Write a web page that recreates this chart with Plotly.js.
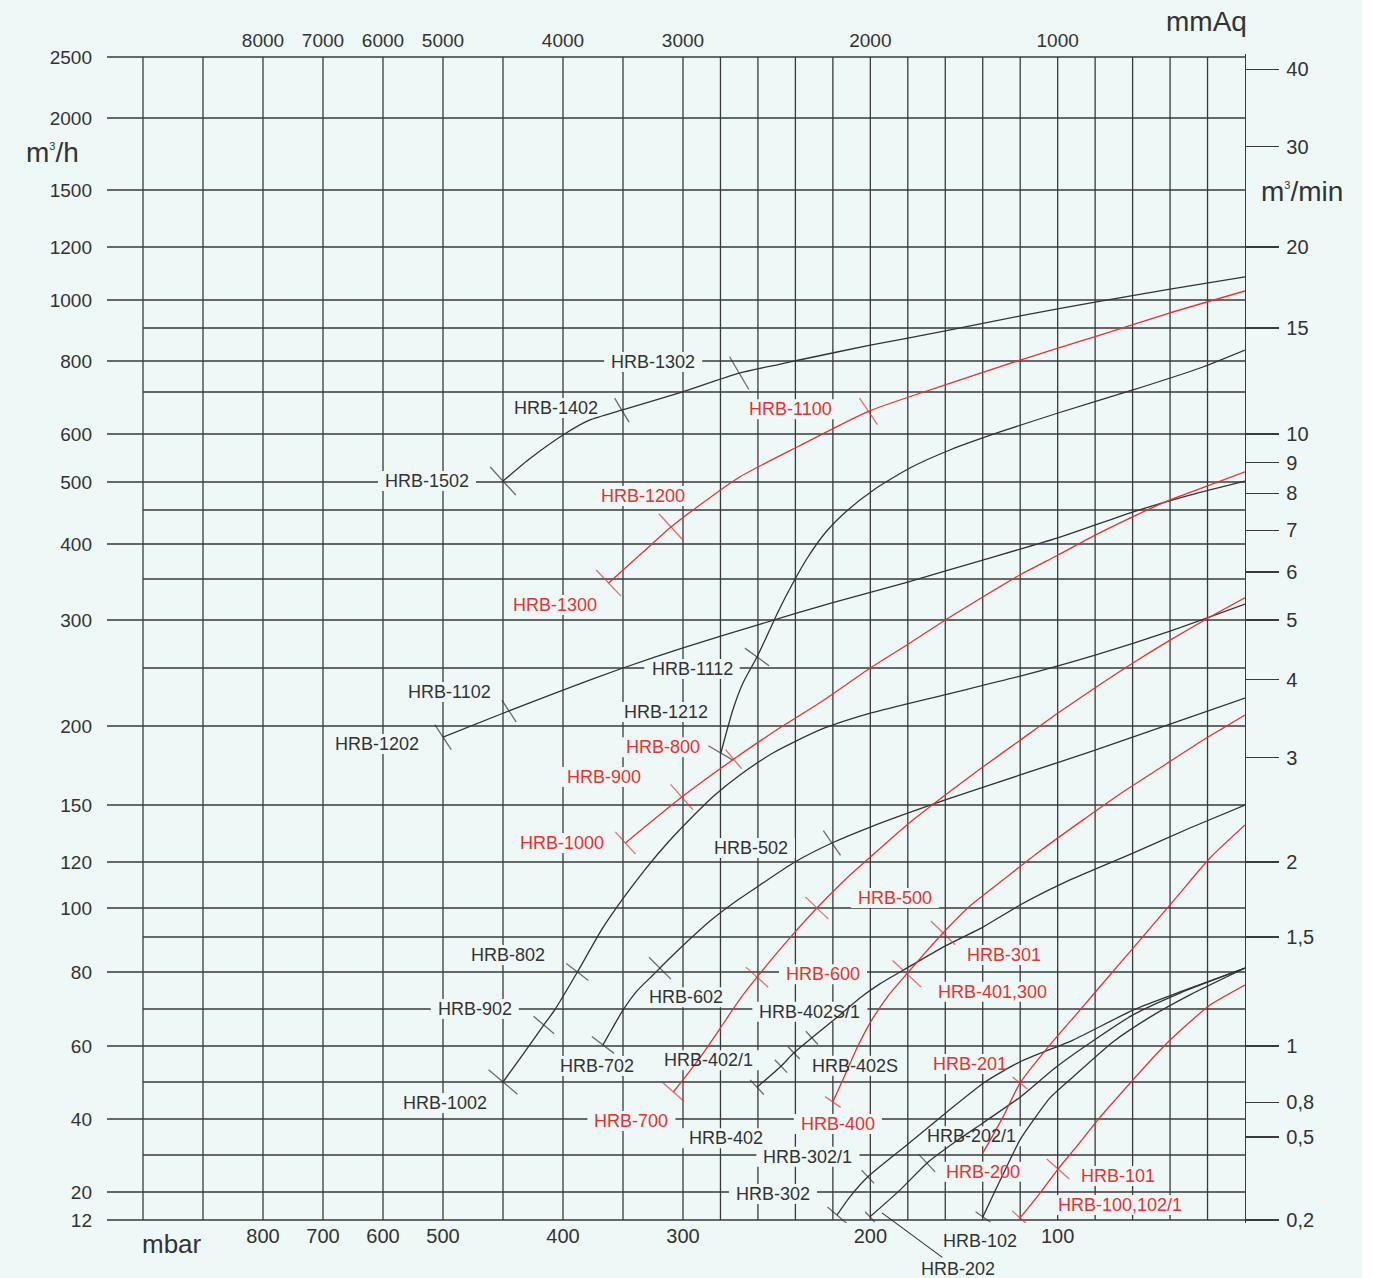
<!DOCTYPE html>
<html>
<head>
<meta charset="utf-8">
<script src="https://cdn.plot.ly/plotly-3.0.1.min.js"></script>
<style>
html,body{margin:0;padding:0;background:#ffffff;}
#chart{width:1378px;height:1278px;}
</style>
</head>
<body>
<div id="chart"></div>
<script>
// ======================= DATA =======================
// Left axis: air flow (m3/h)
const flowTickValues = [12,20,40,60,80,100,120,150,200,300,400,500,600,800,1000,1200,1500,2000,2500];
const flowMinorGrid  = [30,50,70,90,250,350,450,700,900];
// Bottom axis: pressure (mbar)
const mbarTickValues = [800,700,600,500,400,300,200,100];
const mbarGrid = [20,40,60,80,100,120,140,160,180,200,220,240,260,280,300,350,400,450,500,600,700,800,900,1000];
// Top axis: mmAq
const mmAqTickValues = [8000,7000,6000,5000,4000,3000,2000,1000];
// Right axis: m3/min as printed, and the m3/h level where each label is printed
const m3minTickText = ['40','30','20','15','10','9','8','7','6','5','4','3','2','1,5','1','0,8','0,5','0,2'];
const m3minTickFlow = [2400,1800,1200,900,600,540,480,420,360,300,240,180,120,90,60,44.5,35,12];

// Curve A  HRB-1502 / 1402 / 1302
const A_mbar = [450,428,400,378,351,303,270,248,238,200,160,120,77,40,0];
const A_flow = [502,548,598,633,657,698,761,790,803,848,891,943,996,1041,1087];
const A_names = ['HRB-1502','HRB-1402','HRB-1302'];
const A_tickMbar = [450,351,270];
const A_tickFlow = [502,657,761];
// Curve B  HRB-1300 / 1200 / 1100
const B_mbar = [362,333,310,291,270,238,201,160,120,77,40,0];
const B_flow = [345,389,425,459,510,575,654,723,803,879,954,1034];
const B_names = ['HRB-1300','HRB-1200','HRB-1100'];
const B_tickMbar = [362,310,201];
const B_tickFlow = [345,425,654];
// Curve C  HRB-1212 / 1112
const C_mbar = [279.8,273.4,268,260.5,255.7,249.3,241.9,233.3,223.7,212,197.5,178.9,157.5,130.8,99.8,59.8,24,0];
const C_flow = [182.9,213.8,237,261.5,281.3,309.8,342.7,381.4,417.6,450,487.5,529.2,566.7,604.8,650,706.5,777.4,833.3];
const C_names = ['HRB-1212','HRB-1112'];
const C_tickMbar = [279.8,260.5];
const C_tickFlow = [182.9,261.5];
// Curve D  HRB-1202 / 1102
const D_mbar = [500,450,400,350,300,260,220.5,180.5,140,100,60,29,0];
const D_flow = [193,211,231,250,271,295,321,346,377,409,447,477,502];
const D_names = ['HRB-1202','HRB-1102'];
const D_tickMbar = [500,445];
const D_tickFlow = [193,213];
// Curve E  HRB-1000 / 900 / 800
const E_mbar = [348,301,273,248,227,200,180.5,160,140,120,100,80,60,40,20,0];
const E_flow = [130,155,179,199,220,250,274,300,328,356,384,413,440,468,493,521];
const E_names = ['HRB-1000','HRB-900','HRB-800'];
const E_tickMbar = [348,301,273];
const E_tickFlow = [130,155,179];
// Curve F  HRB-1002 / 902 / 802
const F_mbar = [450,432,416,407,388,368,349,332,313,296.3,283,269.6,252,226.9,200,160,120,80,40,0];
const F_flow = [50,58.3,65.7,69.7,80,92.4,104.8,116.5,130,142.5,156.3,169,182.9,197.5,211,227,243,263.5,288.5,319.5];
const F_names = ['HRB-1002','HRB-902','HRB-802'];
const F_tickMbar = [450,416,388];
const F_tickFlow = [50,65.7,80];
// Curve G  HRB-702 / 602 / 502
const G_mbar = [366.7,359.2,350,338.3,325,310.8,296.3,285.6,272.3,258.9,240.3,220.5,200,160,120,80,40,0];
const G_flow = [60.3,64.6,69.7,74.9,79.2,84,89.4,95.5,102.6,110,120,130,138.4,153.2,169,184.8,201.7,224.1];
const G_names = ['HRB-702','HRB-602','HRB-502'];
const G_tickMbar = [366.7,319.2,220.5];
const G_tickFlow = [60.3,81.1,130];
// Curve H  HRB-700 / 600 / 500
const H_mbar = [308,291,280,270,260.5,244,228.5,213.6,200,180.5,160,140,120,100,80,60,40,20,0];
const H_flow = [47.3,56.7,64.9,72.4,78.6,89.1,100,112.2,122.6,139.5,156.3,174,191,211,233,255,279,302,327];
const H_names = ['HRB-700','HRB-600','HRB-500'];
const H_tickMbar = [308,260.5,228.5];
const H_tickFlow = [47.3,78.6,100];
// Curve I  HRB-402 / 402/1 / 402S / 402S/1
const I_mbar = [260.5,247.7,240.8,231.2,216.2,205.6,194.9,180.5,161.2,139.9,120.1,93.4,59.8,29.4,0];
const I_flow = [48.6,54.4,58.1,62.2,68.4,73,76.8,81.1,87.1,93.4,101.3,112.2,124.7,137.9,150];
const I_names = ['HRB-402','HRB-402/1','HRB-402S','HRB-402S/1'];
const I_tickMbar = [260.5,247.7,240.8,231.2];
const I_tickFlow = [48.6,54.4,58.1,62.2];
// Curve J  HRB-400 / 401,300 / 301
const J_mbar = [220,213.6,207.2,200.2,190.6,180.5,170.9,161.2,146.8,129.2,109.4,88.1,66.7,45.4,24,0];
const J_flow = [44.6,51.9,59.4,66.2,73.5,79.5,85.4,91.4,100.9,112.2,125.8,141,157,173.4,189.9,209.5];
const J_names = ['HRB-400','HRB-401,300','HRB-301'];
const J_tickMbar = [220,180.5,161.2];
const J_tickFlow = [44.6,79.5,91.4];
// Curve K  HRB-302 / 302/1
const K_mbar = [217.8,210.9,201.3,180.5,159.1,138.8,120.1,91.8,59.8,34.7,0];
const K_flow = [13.4,18.6,24.1,32.8,41.9,50,55.6,61.6,69.7,74.6,81.1];
const K_names = ['HRB-302','HRB-302/1'];
const K_tickMbar = [217.8,201.3];
const K_tickFlow = [13.4,24.1];
// Curve L  HRB-202 / 202/1
const L_mbar = [200.2,184.2,169.8,154.8,139.9,120.1,101.4,82.8,59.8,34.7,0];
const L_flow = [12.9,20.5,27.8,33.6,38.9,45.9,53.9,60.8,68.4,74.3,81.1];
const L_names = ['HRB-202','HRB-202/1'];
const L_tickMbar = [200.2,169.8];
const L_tickFlow = [12.9,27.8];
// Curve M  HRB-102
const M_mbar = [139.9,134.5,128.1,120.1,112.1,104.1,91.8,70.5,50.7,29.4,0];
const M_flow = [12.9,19.1,25.9,34.2,40.3,45.7,51.4,61.1,67.8,73.8,81.1];
const M_names = ['HRB-102'];
const M_tickMbar = [139.9];
const M_tickFlow = [12.9];
// Curve N  HRB-200 / 201
const N_mbar = [139.9,129.2,120.1,104.1,88.1,72.1,56.1,34.7,18.7,0];
const N_flow = [30.6,40.5,49.7,60.3,69.7,79.2,89.1,106.5,122.1,139.5];
const N_names = ['HRB-200','HRB-201'];
const N_tickMbar = [139.9,120.1];
const N_tickFlow = [30.6,49.7];
// Curve O  HRB-100,102/1 / 101
const O_mbar = [120.1,109.4,99.8,89.2,79,69.4,59.8,49.7,40,29.4,18.7,0];
const O_flow = [12.6,19.7,26.2,32.8,39.5,45.1,50.6,56.4,61.6,66.5,71.1,76.5];
const O_names = ['HRB-100,102/1','HRB-101'];
const O_tickMbar = [120.1,99.8];
const O_tickFlow = [12.6,26.2];

// ======================= SCALES (printed chart uses piecewise scales) =======================
const X_SCALE = [[0,0],[300,562],[500,802],[1060,1138]];   // mbar -> axis position
const Y_SCALE = [[12,1220],[20,1192],[30,1155],[40,1119],[50,1082],[60,1046],[70,1009],[80,972],[90,937],
  [100,908],[120,862],[150,805],[200,726],[250,668],[300,620],[350,579],[400,544],[450,510],[500,482],
  [600,434],[700,392],[800,361],[900,328],[1000,300],[1200,247],[1500,190],[2000,118],[2500,57]]; // m3/h -> axis position
function interp(knots, v){
  for(let i=0;i<knots.length-1;i++){
    const a=knots[i], b=knots[i+1];
    if(v<=b[0] || i===knots.length-2) return a[1]+(v-a[0])*(b[1]-a[1])/(b[0]-a[0]);
  }
}
const xPos = p => interp(X_SCALE, p);
const yPos = q => interp(Y_SCALE, q);

// ======================= STYLE =======================
const FONT = '"Liberation Sans", Arial, Helvetica, sans-serif';
const BG = '#eef8f6';
const INK = '#333333';
const RED = '#e8312f';
const GRID = '#3a3a3a';
const W = 1378, H = 1278;
const M = {l:107, r:133, t:54, b:55};
const XR = [1138, 0], YR = [1223, 54];

const curves = [
  {mbar:A_mbar, flow:A_flow, names:A_names, tm:A_tickMbar, tf:A_tickFlow, color:INK},
  {mbar:B_mbar, flow:B_flow, names:B_names, tm:B_tickMbar, tf:B_tickFlow, color:RED},
  {mbar:C_mbar, flow:C_flow, names:C_names, tm:C_tickMbar, tf:C_tickFlow, color:INK},
  {mbar:D_mbar, flow:D_flow, names:D_names, tm:D_tickMbar, tf:D_tickFlow, color:INK},
  {mbar:E_mbar, flow:E_flow, names:E_names, tm:E_tickMbar, tf:E_tickFlow, color:RED},
  {mbar:F_mbar, flow:F_flow, names:F_names, tm:F_tickMbar, tf:F_tickFlow, color:INK},
  {mbar:G_mbar, flow:G_flow, names:G_names, tm:G_tickMbar, tf:G_tickFlow, color:INK},
  {mbar:H_mbar, flow:H_flow, names:H_names, tm:H_tickMbar, tf:H_tickFlow, color:RED},
  {mbar:I_mbar, flow:I_flow, names:I_names, tm:I_tickMbar, tf:I_tickFlow, color:INK},
  {mbar:J_mbar, flow:J_flow, names:J_names, tm:J_tickMbar, tf:J_tickFlow, color:RED},
  {mbar:K_mbar, flow:K_flow, names:K_names, tm:K_tickMbar, tf:K_tickFlow, color:INK},
  {mbar:L_mbar, flow:L_flow, names:L_names, tm:L_tickMbar, tf:L_tickFlow, color:INK},
  {mbar:M_mbar, flow:M_flow, names:M_names, tm:M_tickMbar, tf:M_tickFlow, color:INK},
  {mbar:N_mbar, flow:N_flow, names:N_names, tm:N_tickMbar, tf:N_tickFlow, color:RED},
  {mbar:O_mbar, flow:O_flow, names:O_names, tm:O_tickMbar, tf:O_tickFlow, color:RED}
];
// tick-mark length (px) for each model
const TICK_LEN = {'HRB-1502':38,'HRB-1402':28,'HRB-1302':38,'HRB-1300':36,'HRB-1200':36,'HRB-1100':32,
 'HRB-1212':29,'HRB-1112':30,'HRB-1202':30,'HRB-1102':26,'HRB-1000':30,'HRB-900':34,'HRB-800':25,
 'HRB-1002':38,'HRB-902':27,'HRB-802':28,'HRB-702':28,'HRB-602':31,'HRB-502':30,'HRB-700':28,'HRB-600':30,
 'HRB-500':32,'HRB-402':20,'HRB-402/1':18,'HRB-402S':17,'HRB-402S/1':18,'HRB-400':19,'HRB-401,300':39,
 'HRB-301':34,'HRB-302':25,'HRB-302/1':18,'HRB-202':14,'HRB-202/1':24,'HRB-102':18,'HRB-201':19,'HRB-200':0,
 'HRB-101':30,'HRB-100,102/1':21};
// label offset (px right, px down) from the model's point
const LABEL_OFF = {'HRB-1502':[-76,0],'HRB-1402':[-66,-2],'HRB-1302':[-86,-11],'HRB-1300':[-54,22],
 'HRB-1200':[-28,-31],'HRB-1100':[-78,-2],'HRB-1212':[-55,-41],'HRB-1112':[-65,12],'HRB-1202':[-66,7],
 'HRB-1102':[-60,-19],'HRB-1000':[-63,0],'HRB-900':[-78,-20],'HRB-800':[-71,-12],'HRB-1002':[-58,21],
 'HRB-902':[-69,-16],'HRB-802':[-69,-17],'HRB-702':[-6,21],'HRB-602':[26,29],'HRB-502':[-81,5],
 'HRB-700':[-42,29],'HRB-600':[66,-3],'HRB-500':[78,-10],'HRB-402':[-31,51],'HRB-402/1':[-72,-6],
 'HRB-402S':[61,13],'HRB-402S/1':[-2,-26],'HRB-400':[5,22],'HRB-401,300':[86,18],'HRB-301':[61,22],
 'HRB-302':[-64,-21],'HRB-302/1':[-60,-20],'HRB-202':[88,52],'HRB-202/1':[45,-27],'HRB-102':[-3,24],
 'HRB-201':[-50,-19],'HRB-200':[0,19],'HRB-101':[60,7],'HRB-100,102/1':[100,-13]};
const ARROW_LABELS = {'HRB-202':{shift:[12,-4]}};

const LABEL_SIZE = 18;
const cv = document.createElement('canvas').getContext('2d');
cv.font = LABEL_SIZE + 'px "Liberation Sans", Arial, sans-serif';
const textW = s => cv.measureText(s).width;

const pxX = px => (px - M.l) / (W - M.l - M.r);
const pxY = py => (H - M.b - py) / (H - M.t - M.b);

// ======================= BUILD =======================
const traces = [], shapes = [], annotations = [];

// grid
mbarGrid.forEach(m => shapes.push({type:'line', xref:'x', yref:'y', x0:xPos(m), x1:xPos(m), y0:yPos(12), y1:yPos(2500),
  line:{color:GRID, width:1.3}, layer:'below'}));
flowTickValues.forEach(q => shapes.push({type:'line', xref:'x', yref:'y', x0:xPos(1060), x1:xPos(0), y0:yPos(q), y1:yPos(q),
  line:{color:GRID, width:1.3}, layer:'below'}));
flowMinorGrid.forEach(q => shapes.push({type:'line', xref:'x', yref:'y', x0:xPos(1000), x1:xPos(0), y0:yPos(q), y1:yPos(q),
  line:{color:GRID, width:1.3}, layer:'below'}));

curves.forEach(c => {
  const xs = c.mbar.map(xPos), ys = c.flow.map(yPos);
  traces.push({type:'scatter', mode:'lines', x:xs, y:ys, line:{color:c.color, width:1.3, shape:'spline', smoothing:0.6},
    hoverinfo:'skip', showlegend:false});
  const tx=[], ty=[], ang=[], sz=[];
  c.names.forEach((n,i) => {
    const X = xPos(c.tm[i]), Y = yPos(c.tf[i]);
    const len = TICK_LEN[n] || 0;
    if(len > 0){
      let best=0, bd=1e12;
      xs.forEach((x,k) => { const d=(x-X)**2+(ys[k]-Y)**2; if(d<bd){bd=d; best=k;} });
      const k0=Math.max(0,best-1), k1=Math.min(xs.length-1,best+1);
      const dsx = -(xs[k1]-xs[k0]), dsy = ys[k1]-ys[k0];
      const phi = Math.atan2(dsy, dsx)*180/Math.PI;
      tx.push(X); ty.push(Y); ang.push(0.5*phi - 22.5); sz.push(len/1.4);
    }
    const off = LABEL_OFF[n];
    const col = c.color;
    if(ARROW_LABELS[n]){
      const sh = ARROW_LABELS[n].shift;
      annotations.push({x:X, y:Y, xref:'x', yref:'y', text:n, showarrow:true, arrowhead:0, arrowwidth:1.1, arrowcolor:INK,
        ax:off[0]-sh[0], ay:off[1]-sh[1], xshift:sh[0], yshift:-sh[1], standoff:0,
        font:{family:FONT, size:LABEL_SIZE, color:col}});
    } else {
      annotations.push({x:X, y:Y, xref:'x', yref:'y', text:n, showarrow:false, xshift:off[0], yshift:-off[1],
        xanchor:'center', yanchor:'middle', font:{family:FONT, size:LABEL_SIZE, color:col}});
      const w = textW(n) + 14, h = 20;
      shapes.push({type:'rect', xref:'x', yref:'y', xsizemode:'pixel', ysizemode:'pixel', xanchor:X, yanchor:Y,
        x0:off[0]-w/2, x1:off[0]+w/2, y0:-off[1]-h/2, y1:-off[1]+h/2, fillcolor:BG, line:{width:0}, layer:'below'});
    }
  });
  traces.push({type:'scatter', mode:'markers', x:tx, y:ty, hoverinfo:'skip', showlegend:false,
    marker:{symbol:'line-ns', size:sz, angle:ang, color:c.color, line:{color:c.color, width:1.3}}});
});

// helper trace to activate the secondary axes
traces.push({type:'scatter', mode:'markers', x:[xPos(0)], y:[yPos(12)], xaxis:'x2', yaxis:'y2',
  marker:{size:1, opacity:0}, hoverinfo:'skip', showlegend:false});

// white strip at the far right of the page
shapes.push({type:'rect', xref:'paper', yref:'paper', x0:pxX(1362), x1:pxX(1400), y0:-1, y1:2, fillcolor:'#ffffff', line:{width:0}, layer:'above'});

// unit titles
const unitFont = s => ({family:FONT, size:s, color:INK});
const SUP3 = '<sup><span style="font-size:11px">3</span></sup>';
function unitNote(px, py, text, size){
  annotations.push({xref:'paper', yref:'paper', x:pxX(px), y:pxY(py), xanchor:'center', yanchor:'middle',
    text:text, showarrow:false, font:unitFont(size)});
}
unitNote(52, 153, 'm' + SUP3 + '/h', 28);
unitNote(1302, 191, 'm' + SUP3 + '/min', 28);
unitNote(1206, 22, 'mmAq', 28);
unitNote(172, 1244, 'mbar', 26);

const tickFont = s => ({family:FONT, size:s, color:INK});
const layout = {
  width:W, height:H, margin:M, paper_bgcolor:BG, plot_bgcolor:BG, showlegend:false,
  xaxis:{range:XR, showgrid:false, zeroline:false, showline:false, ticks:'',
    tickvals:mbarTickValues.map(xPos), ticktext:mbarTickValues.map(String), tickfont:tickFont(20), ticklabelstandoff:-1, fixedrange:true},
  xaxis2:{overlaying:'x', side:'top', range:XR, showgrid:false, zeroline:false, showline:false, ticks:'',
    tickvals:mmAqTickValues.map(v => xPos(v/10)), ticktext:mmAqTickValues.map(String), tickfont:tickFont(19), ticklabelstandoff:2, fixedrange:true},
  yaxis:{range:YR, showgrid:false, zeroline:false, showline:false, ticks:'',
    tickvals:flowTickValues.map(yPos), ticktext:flowTickValues.map(String), tickfont:tickFont(19), ticklabelstandoff:14, fixedrange:true},
  yaxis2:{overlaying:'y', side:'right', range:YR, showgrid:false, zeroline:false, showline:true, linecolor:GRID, linewidth:1.3,
    ticks:'outside', ticklen:33, tickwidth:1.3, tickcolor:GRID,
    tickvals:m3minTickFlow.map(yPos), ticktext:m3minTickText, tickfont:tickFont(20), ticklabelstandoff:3, fixedrange:true},
  shapes:shapes, annotations:annotations
};
Plotly.newPlot('chart', traces, layout, {displayModeBar:false, staticPlot:true});
</script>
</body>
</html>
